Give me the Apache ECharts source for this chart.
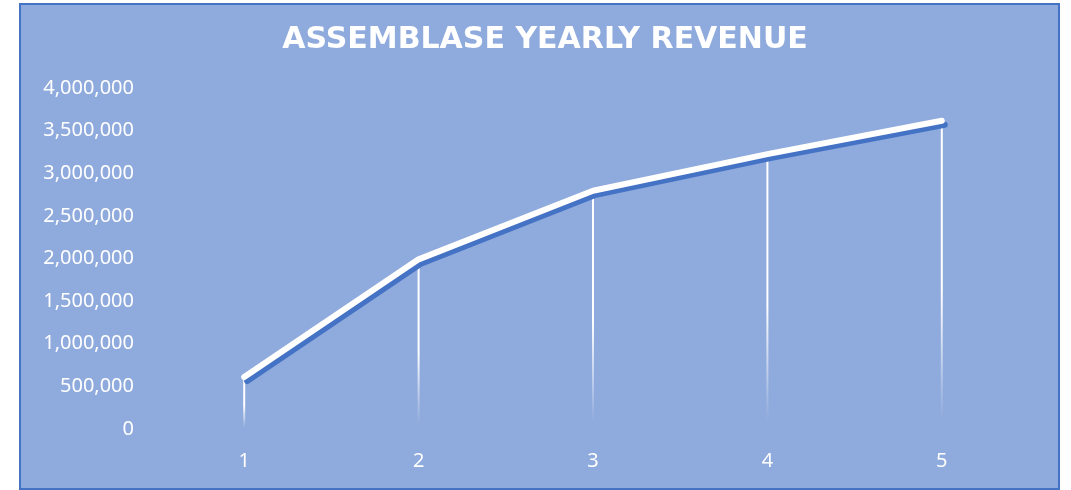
<!DOCTYPE html>
<html>
<head>
<meta charset="utf-8">
<script src="https://cdn.jsdelivr.net/npm/echarts@6/dist/echarts.min.js"></script>
<style>
  html, body { margin: 0; padding: 0; background: #ffffff; }
  #chart { width: 1071px; height: 490px; }
</style>
</head>
<body>
<div id="chart"></div>
<script>
  // values
  var years = ['1', '2', '3', '4', '5'];
  var revenue = [610000, 1990000, 2795000, 3225000, 3615000];
  var yMin = 0;
  var yMax = 4000000;
  var yStep = 500000;

  var chart = echarts.init(document.getElementById('chart'));

  var option = {
    backgroundColor: '#ffffff',
    animation: false,
    graphic: [{
      type: 'rect',
      z: -10,
      shape: { x: 20, y: 4, width: 1039, height: 485 },
      style: { fill: '#8faadc', stroke: '#4472c4', lineWidth: 2 }
    }],
    title: {
      text: 'ASSEMBLASE YEARLY REVENUE',
      left: 540,
      textAlign: 'center',
      top: 20,
      textStyle: {
        color: '#ffffff',
        fontFamily: 'DejaVu Sans',
        fontWeight: 'bold',
        fontSize: 30
      }
    },
    grid: {
      left: 157,
      right: 42,
      top: 88,
      bottom: 61,
      containLabel: false
    },
    xAxis: {
      type: 'category',
      data: years,
      boundaryGap: true,
      axisLine: { show: false },
      axisTick: { show: false },
      axisLabel: {
        color: '#ffffff',
        fontFamily: 'Noto Sans',
        fontSize: 20,
        margin: 22
      }
    },
    yAxis: {
      type: 'value',
      min: yMin,
      max: yMax,
      interval: yStep,
      splitLine: { show: false },
      axisLine: { show: false },
      axisTick: { show: false },
      axisLabel: {
        color: '#ffffff',
        fontFamily: 'Noto Sans',
        fontSize: 20,
        margin: 23,
        formatter: function (v) {
          return v.toString().replace(/\B(?=(\d{3})+(?!\d))/g, ',');
        }
      }
    },
    series: [
      {
        // drop lines
        type: 'bar',
        data: revenue,
        barWidth: 2,
        z: 1,
        itemStyle: {
          color: new echarts.graphic.LinearGradient(0, 0, 0, 1, [
            { offset: 0, color: 'rgba(255,255,255,1)' },
            { offset: 0.55, color: 'rgba(255,255,255,1)' },
            { offset: 0.97, color: 'rgba(255,255,255,0)' },
            { offset: 1, color: 'rgba(255,255,255,0)' }
          ])
        }
      },
      {
        type: 'line',
        data: revenue,
        z: 3,
        showSymbol: false,
        symbol: 'none',
        lineStyle: {
          color: '#ffffff',
          width: 6,
          cap: 'round',
          join: 'round',
          shadowColor: '#4472c4',
          shadowBlur: 0,
          shadowOffsetX: 3,
          shadowOffsetY: 4
        }
      }
    ]
  };

  chart.setOption(option);
</script>
</body>
</html>
